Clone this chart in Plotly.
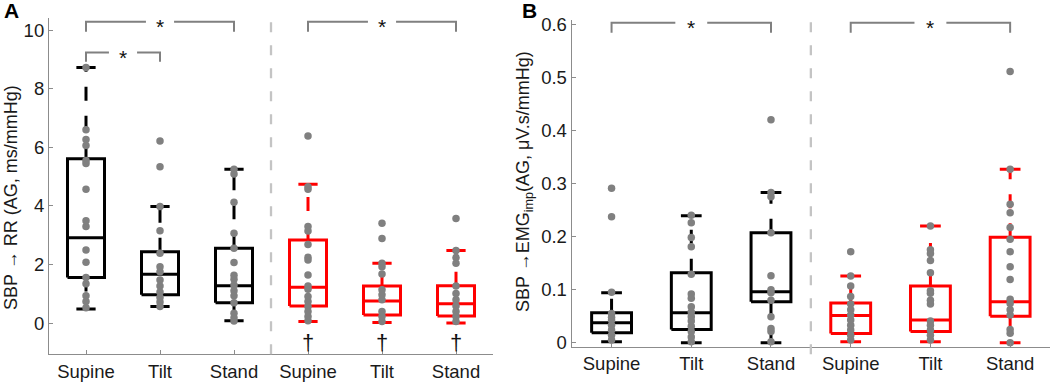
import plotly.graph_objects as go

W, H = 1052, 383

# ---------------- data ----------------
groups = ["Supine", "Tilt", "Stand", "Supine", "Tilt", "Stand"]
box_colors = ["#000000", "#000000", "#000000", "#ff0000", "#ff0000", "#ff0000"]

# Panel A: SBP -> RR (AG, ms/mmHg)
a_points = [
    [8.72, 6.6, 6.27, 6.06, 5.55, 5.45, 4.57, 3.5, 3.3, 2.5, 2.08, 1.56, 1.35, 0.94, 0.74, 0.53],
    [6.22, 5.34, 3.98, 3.16, 2.39, 1.93, 1.76, 1.48, 1.27, 1.07, 0.88, 0.73, 0.57],
    [5.25, 5.09, 4.13, 3.07, 2.56, 2.07, 1.64, 1.5, 1.31, 1.11, 0.94, 0.7, 0.34, 0.19, 0.08],
    [6.39, 4.66, 4.57, 3.3, 3.15, 2.69, 2.25, 2.16, 1.65, 1.27, 1.16, 0.91, 0.74, 0.57, 0.4, 0.23, 0.09],
    [3.41, 2.89, 2.05, 1.93, 1.68, 1.14, 0.97, 0.8, 0.4, 0.23, 0.06],
    [3.57, 2.48, 2.24, 2.05, 1.27, 1.02, 0.8, 0.59, 0.4, 0.23, 0.06],
]
a_q1 = [1.56, 0.97, 0.70, 0.59, 0.28, 0.25]
a_med = [2.92, 1.67, 1.28, 1.23, 0.76, 0.67]
a_q3 = [5.61, 2.44, 2.56, 2.84, 1.27, 1.28]
a_lo = [0.49, 0.57, 0.09, 0.06, 0.03, 0.01]
a_hi = [8.72, 3.98, 5.25, 4.74, 2.05, 2.48]

# Panel B: SBP -> EMG_imp (AG, uV.s/mmHg)
b_points = [
    [0.291, 0.2375, 0.095, 0.055, 0.048, 0.043, 0.033, 0.024, 0.014, 0.005],
    [0.24, 0.226, 0.198, 0.181, 0.129, 0.092, 0.084, 0.068, 0.058, 0.049, 0.041, 0.031, 0.021, 0.011, 0.002],
    [0.42, 0.283, 0.275, 0.207, 0.126, 0.1, 0.094, 0.08, 0.049, 0.027, 0.021, 0.002],
    [0.1715, 0.1257, 0.107, 0.087, 0.073, 0.062, 0.052, 0.043, 0.033, 0.024, 0.014, 0.005],
    [0.22, 0.175, 0.168, 0.155, 0.132, 0.098, 0.093, 0.08, 0.073, 0.041, 0.033, 0.024, 0.014, 0.005],
    [0.511, 0.327, 0.261, 0.245, 0.217, 0.195, 0.1715, 0.143, 0.119, 0.082, 0.074, 0.062, 0.052, 0.025, 0.018, 0.0],
]
b_q1 = [0.0188, 0.025, 0.077, 0.0176, 0.021, 0.05]
b_med = [0.0377, 0.0565, 0.096, 0.0515, 0.043, 0.077]
b_q3 = [0.0565, 0.132, 0.207, 0.075, 0.107, 0.1985]
b_lo = [0.002, 0.0, 0.0, 0.002, 0.002, 0.0]
b_hi = [0.094, 0.239, 0.283, 0.1257, 0.22, 0.327]

# significance brackets: (x_start, x_end, y_level, y_drop)
a_brackets = [(1, 3, 10.28, 9.94), (1, 2, 9.23, 8.92), (4, 6, 10.28, 9.94)]
b_brackets = [(1, 3, 0.603, 0.584), (4, 6, 0.603, 0.584)]
dagger_groups = [4, 5, 6]
dagger_y = -0.64

a_yticks = [0, 2, 4, 6, 8, 10]
b_yticks = [0, 0.1, 0.2, 0.3, 0.4, 0.5, 0.6]
b_yticktext = ["0", "0.1", "0.2", "0.3", "0.4", "0.5", "0.6"]

# ---------------- styling ----------------
FONT = "Liberation Sans, Arial, Helvetica, sans-serif"
AXIS_COL = "#8c8c8c"
PT_COL = "#808080"
BR_COL = "#808080"
BOX_W = 0.5
CAP_W = 0.26
LW = 3

fig = go.Figure()


def add_panel(points, q1, med, q3, lo, hi, xa, ya):
    for i in range(len(groups)):
        x = i + 1
        c = box_colors[i]
        # box outline + median
        fig.add_trace(go.Scatter(
            x=[x - BOX_W / 2, x + BOX_W / 2, x + BOX_W / 2, x - BOX_W / 2, x - BOX_W / 2, None,
               x - BOX_W / 2, x + BOX_W / 2],
            y=[q1[i], q1[i], q3[i], q3[i], q1[i], None, med[i], med[i]],
            mode="lines", line=dict(color=c, width=LW), xaxis=xa, yaxis=ya,
            hoverinfo="skip", showlegend=False))
        # whiskers (dashed)
        for a, b in [(q3[i], hi[i]), (q1[i], lo[i])]:
            fig.add_trace(go.Scatter(
                x=[x, x], y=[a, b], mode="lines",
                line=dict(color=c, width=LW, dash="14px,15px"), xaxis=xa, yaxis=ya,
                hoverinfo="skip", showlegend=False))
        # caps
        fig.add_trace(go.Scatter(
            x=[x - CAP_W / 2, x + CAP_W / 2, None, x - CAP_W / 2, x + CAP_W / 2],
            y=[hi[i], hi[i], None, lo[i], lo[i]],
            mode="lines", line=dict(color=c, width=LW), xaxis=xa, yaxis=ya,
            hoverinfo="skip", showlegend=False))
    # points on top
    for i in range(len(groups)):
        fig.add_trace(go.Scatter(
            x=[i + 1] * len(points[i]), y=points[i], mode="markers",
            marker=dict(color=PT_COL, size=7.5, line=dict(width=0)),
            xaxis=xa, yaxis=ya, showlegend=False))


def add_brackets(brackets, xa, ya, gap):
    for (x0, x1, yl, yd) in brackets:
        xm = (x0 + x1) / 2
        fig.add_trace(go.Scatter(
            x=[x0, x0, xm - gap, None, xm + gap, x1, x1],
            y=[yd, yl, yl, None, yl, yl, yd],
            mode="lines", line=dict(color=BR_COL, width=2), xaxis=xa, yaxis=ya,
            hoverinfo="skip", showlegend=False))
        fig.add_annotation(x=xm, y=yl, xref=xa, yref=ya, text="*", showarrow=False,
                           xanchor="center", yanchor="middle",
                           font=dict(family=FONT, size=21, color="#111"), yshift=-5)


add_panel(a_points, a_q1, a_med, a_q3, a_lo, a_hi, "x", "y")
add_panel(b_points, b_q1, b_med, b_q3, b_lo, b_hi, "x2", "y2")
add_brackets(a_brackets, "x", "y", 0.19)
add_brackets(b_brackets, "x2", "y2", 0.2)

# daggers under red boxes in panel A
for g in dagger_groups:
    fig.add_annotation(x=g, y=dagger_y, xref="x", yref="y", text="†", showarrow=False,
                       xanchor="center", yanchor="middle",
                       font=dict(family=FONT, size=22, color="#111"))

# vertical dashed separators
for xr in ["x", "x2"]:
    fig.add_vline(x=3.5, xref=xr, line=dict(color="#c4c4c4", width=2.3, dash="10px,13px"))


def px_x(p):
    return p / W


def px_y(p):
    return 1 - p / H


axis_common = dict(showline=True, linecolor=AXIS_COL, linewidth=1.2, ticks="inside",
                   ticklen=4, tickcolor=AXIS_COL, tickwidth=1, showgrid=False, zeroline=False,
                   tickfont=dict(family=FONT, size=18.5, color="#1a1a1a"), automargin=False)

fig.update_layout(
    width=W, height=H, margin=dict(l=0, r=0, t=0, b=0),
    paper_bgcolor="white", plot_bgcolor="white", showlegend=False,
    xaxis=dict(domain=[px_x(49), px_x(493)], range=[0.5, 6.5], tickvals=[1, 2, 3, 4, 5, 6],
               ticktext=groups, anchor="y", **axis_common),
    yaxis=dict(domain=[px_y(354.3), px_y(18)], range=[-1.057, 10.41], tickvals=a_yticks,
               anchor="x", **axis_common),
    xaxis2=dict(domain=[px_x(571.7), px_x(1050)], range=[0.5, 6.5], tickvals=[1, 2, 3, 4, 5, 6],
                ticktext=groups, anchor="y2", **axis_common),
    yaxis2=dict(domain=[px_y(346.7), px_y(20)], range=[-0.0075, 0.608], tickvals=b_yticks,
                ticktext=b_yticktext, anchor="x2", **axis_common),
)

# y-axis titles
fig.add_annotation(x=px_x(11), y=px_y(198), xref="paper", yref="paper", textangle=-90,
                   xanchor="center", yanchor="middle",
                   text="SBP → RR (AG, ms/mmHg)", showarrow=False,
                   font=dict(family=FONT, size=18, color="#1a1a1a"))
fig.add_annotation(x=px_x(525), y=px_y(182), xref="paper", yref="paper", textangle=-90,
                   xanchor="center", yanchor="middle",
                   text="SBP →EMG<sub>imp</sub>(AG, μV.s/mmHg)", showarrow=False,
                   font=dict(family=FONT, size=18, color="#1a1a1a"))

# panel letters
fig.add_annotation(x=px_x(11), y=px_y(10), xref="paper", yref="paper", text="<b>A</b>",
                   xanchor="center", yanchor="middle",
                   showarrow=False, font=dict(family=FONT, size=21, color="#000"))
fig.add_annotation(x=px_x(529), y=px_y(10), xref="paper", yref="paper", text="<b>B</b>",
                   xanchor="center", yanchor="middle",
                   showarrow=False, font=dict(family=FONT, size=21, color="#000"))

fig.write_html("out.html", config={"displayModeBar": False},
               post_script="document.body.style.margin='0';document.body.style.overflow='hidden';")
